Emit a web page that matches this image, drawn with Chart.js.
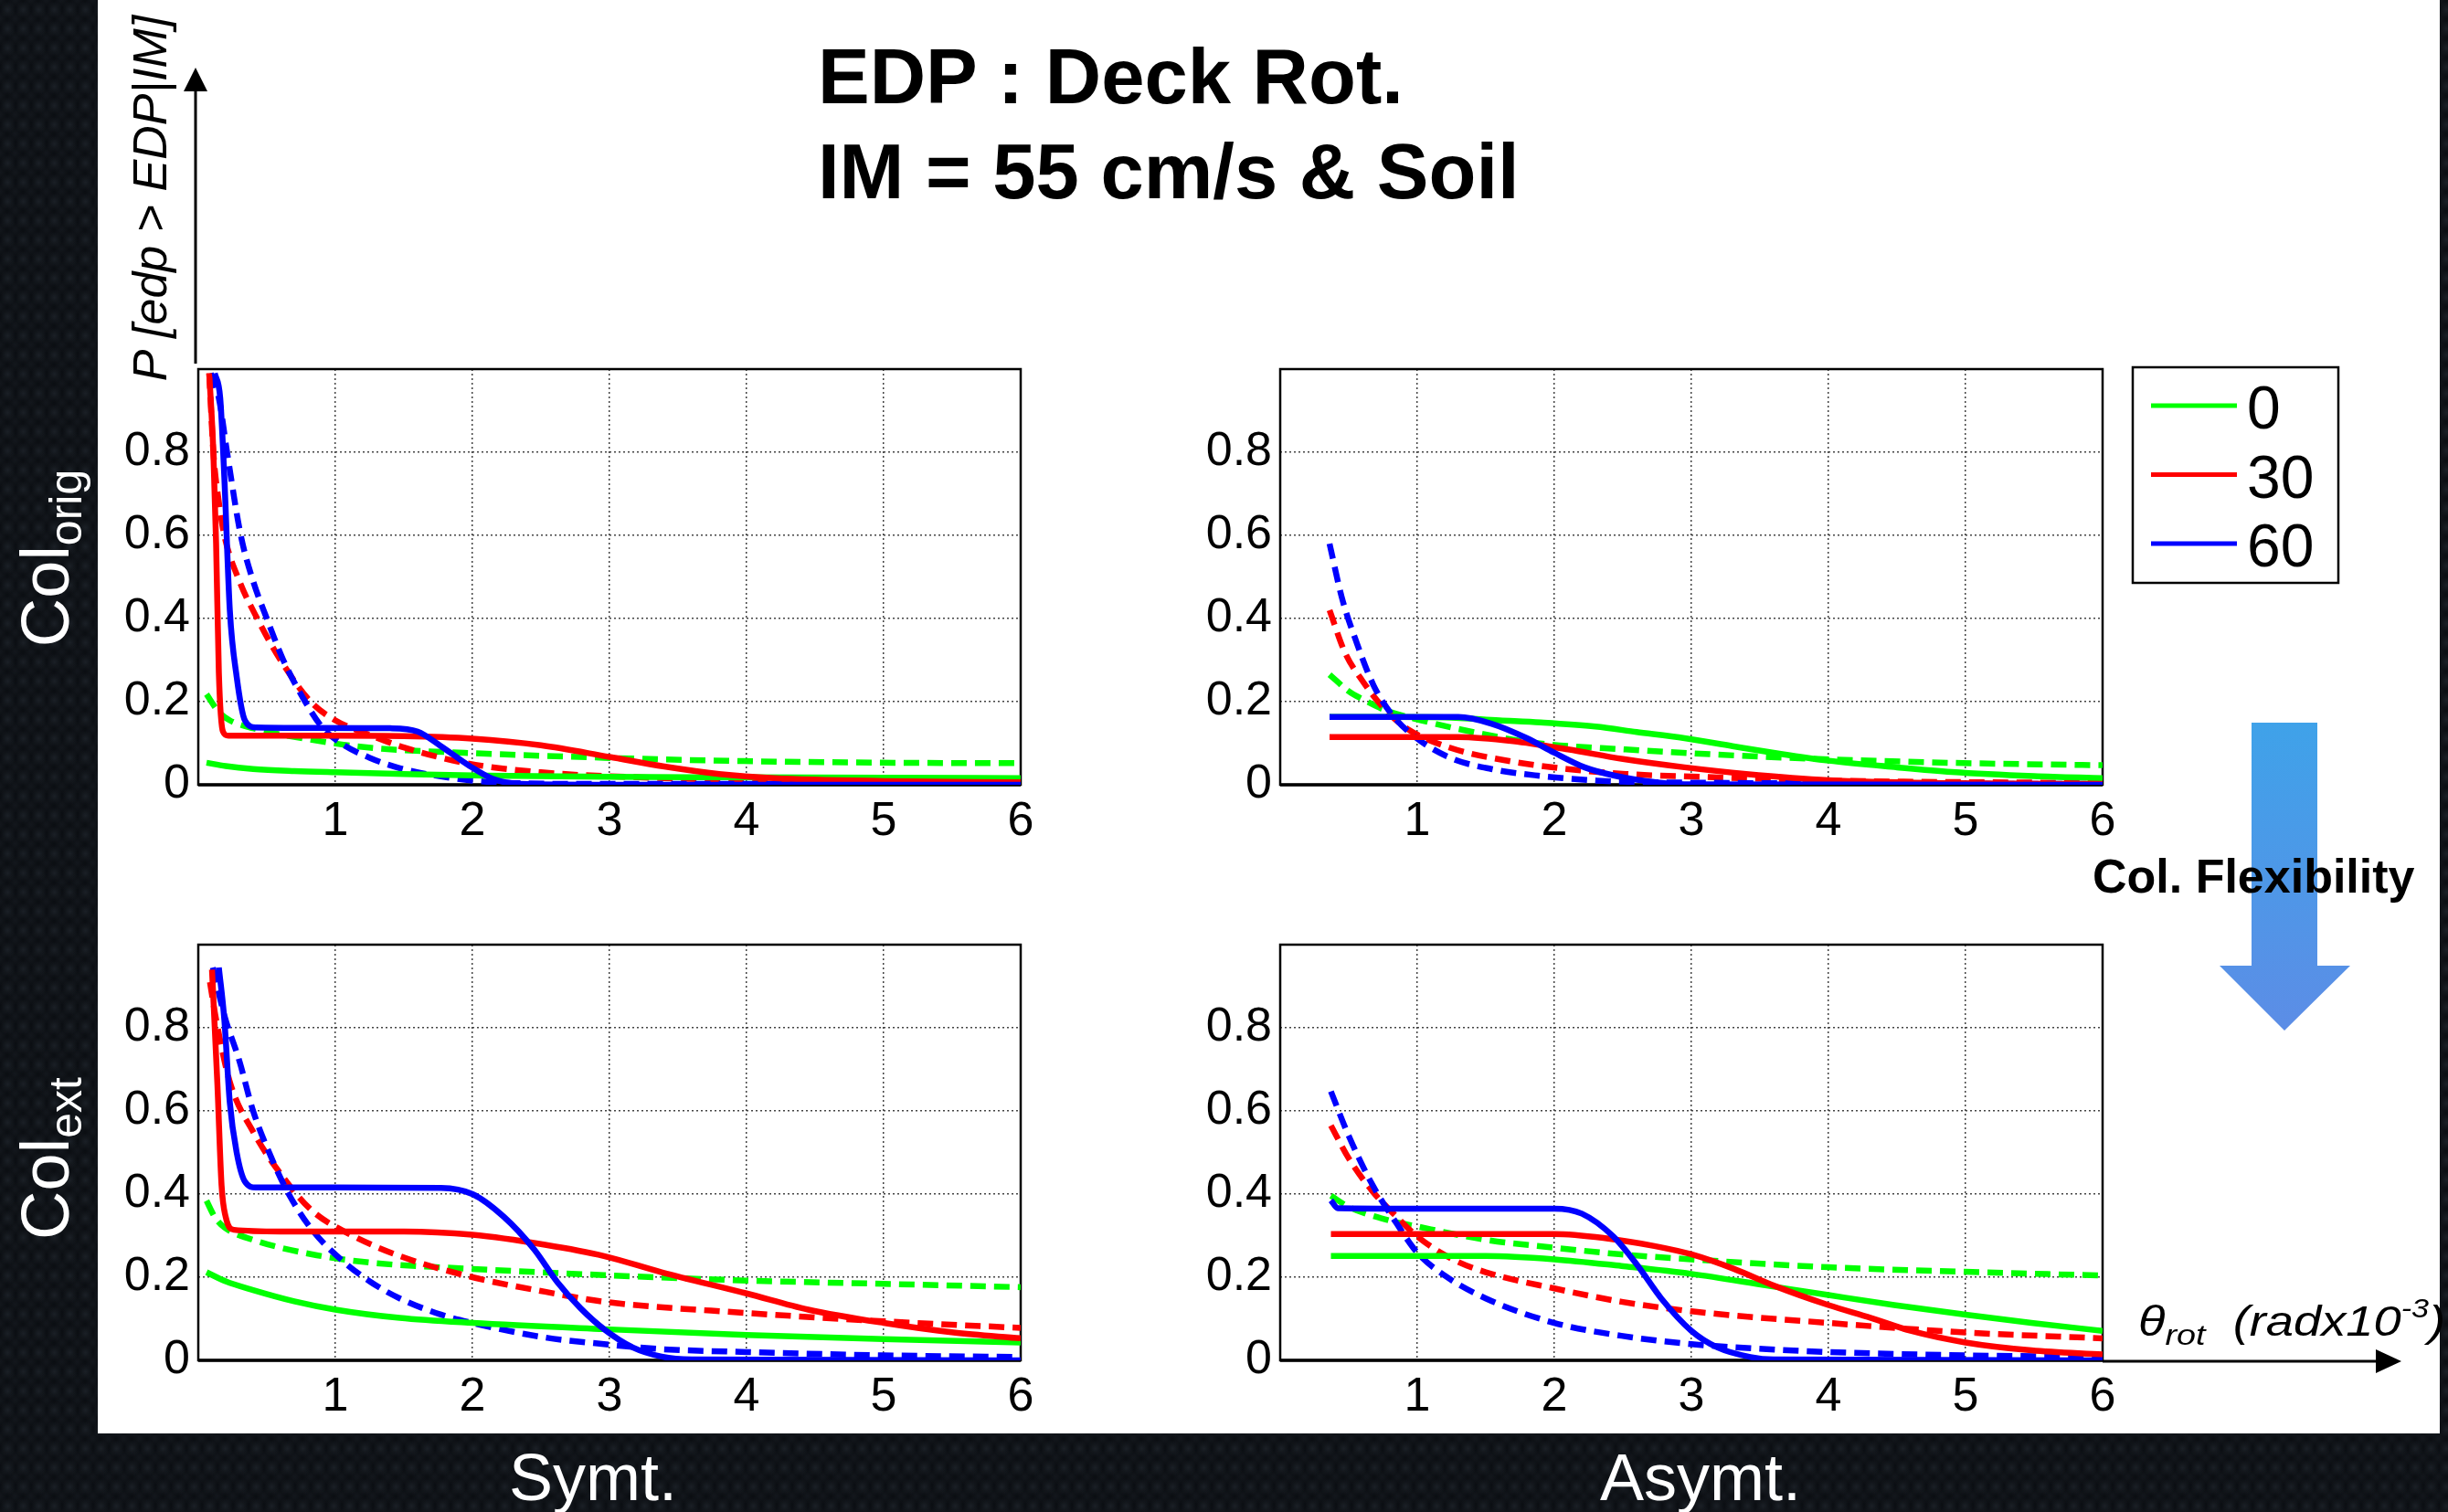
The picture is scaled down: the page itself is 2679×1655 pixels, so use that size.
<!DOCTYPE html>
<html>
<head>
<meta charset="utf-8">
<script src="https://cdn.jsdelivr.net/npm/chart.js@4.4.1/dist/chart.umd.min.js"></script>
<style>
  body {
    margin: 0;
    width: 2679px;
    height: 1655px;
    overflow: hidden;
    position: relative;
    background-color: #0b0e12;
    background-image:
      radial-gradient(ellipse 50% 45% at 50% 50%, rgba(52, 60, 70, 0.38), rgba(0, 0, 0, 0) 100%),
      radial-gradient(ellipse 50% 45% at 50% 50%, rgba(36, 42, 50, 0.32), rgba(0, 0, 0, 0) 100%);
    background-size: 17px 21px, 17px 21px;
    background-position: 0 0, 8px 10px;
    font-family: "Liberation Sans", Arial, sans-serif;
  }
  #sheet {
    position: absolute;
    left: 107px;
    top: 0;
    width: 2563px;
    height: 1569px;
    background: #fff;
  }
  canvas { position: absolute; }
  #overlay { position: absolute; left: 0; top: 0; pointer-events: none; }
</style>
</head>
<body>
<div id="sheet"></div>
<canvas id="symOrig" width="1050" height="545" style="left:107px;top:394px"></canvas>
<canvas id="asymOrig" width="1050" height="545" style="left:1291px;top:394px"></canvas>
<canvas id="symExt" width="1050" height="545" style="left:107px;top:1024px"></canvas>
<canvas id="asymExt" width="1050" height="545" style="left:1291px;top:1024px"></canvas>
<svg id="overlay" width="2679" height="1655" xmlns="http://www.w3.org/2000/svg"></svg>

<script>
// column flexibility cases shown in each panel
const seriesLabels = ['0', '30', '60'];
const seriesColors = ['#00ff00', '#ff0000', '#0000ff'];
const xTicks = [1, 2, 3, 4, 5, 6];
const yTicks = [0, 0.2, 0.4, 0.6, 0.8];

// Symmetric bridge, original columns  ([theta, P] pairs)
const symOrigSolid0 = [[0.06,0.053],[0.2,0.045],[0.4,0.038],[0.7,0.033],[1.0,0.030],[1.5,0.026],[2.1,0.022],[3.0,0.019],[3.8,0.018],[5.0,0.017],[6.0,0.016]];
const symOrigSolid30 = [[0.08,0.99],[0.11,0.80],[0.13,0.58],[0.15,0.27],[0.18,0.128],[0.22,0.118],[0.6,0.118],[1.0,0.118],[1.5,0.117],[2.0,0.111],[2.5,0.095],[3.0,0.067],[3.4,0.044],[3.8,0.026],[4.2,0.016],[5.0,0.009],[6.0,0.006]];
const symOrigSolid60 = [[0.12,0.99],[0.16,0.93],[0.19,0.74],[0.23,0.42],[0.28,0.26],[0.34,0.155],[0.42,0.138],[0.8,0.137],[1.4,0.136],[1.6,0.128],[1.77,0.093],[1.98,0.045],[2.15,0.014],[2.35,0.002],[3.0,0.0],[6.0,0.0]];
const symOrigDashed0 = [[0.06,0.218],[0.15,0.175],[0.23,0.155],[0.4,0.136],[0.83,0.108],[1.26,0.089],[1.94,0.077],[2.96,0.065],[3.98,0.057],[5.08,0.053],[6.0,0.052]];
const symOrigDashed30 = [[0.08,0.99],[0.11,0.80],[0.15,0.68],[0.19,0.60],[0.3,0.49],[0.43,0.40],[0.6,0.30],[0.82,0.20],[1.0,0.155],[1.25,0.12],[1.5,0.09],[1.94,0.053],[2.5,0.030],[3.4,0.016],[4.2,0.010],[6.0,0.006]];
const symOrigDashed60 = [[0.09,0.99],[0.15,0.93],[0.21,0.80],[0.31,0.60],[0.4,0.49],[0.5,0.40],[0.62,0.30],[0.78,0.20],[0.9,0.14],[1.04,0.10],[1.25,0.065],[1.47,0.040],[1.77,0.020],[2.0,0.010],[2.3,0.004],[3.0,0.002],[6.0,0.002]];

// Asymmetric bridge, original columns
const asymOrigSolid0 = [[0.36,0.163],[0.8,0.163],[1.2,0.162],[1.6,0.155],[1.9,0.150],[2.3,0.140],[2.6,0.127],[2.95,0.112],[3.3,0.093],[3.6,0.077],[4.0,0.058],[4.5,0.042],[4.9,0.031],[5.5,0.021],[6.0,0.016]];
const asymOrigSolid30 = [[0.36,0.115],[0.8,0.115],[1.3,0.115],[1.7,0.105],[2.1,0.085],[2.5,0.062],[2.95,0.042],[3.4,0.026],[4.0,0.011],[4.9,0.004],[6.0,0.002]];
const asymOrigSolid60 = [[0.36,0.163],[0.8,0.163],[1.3,0.163],[1.54,0.147],[1.8,0.112],[2.0,0.077],[2.22,0.042],[2.44,0.022],[2.74,0.006],[2.95,0.001],[6.0,0.0]];
const asymOrigDashed0 = [[0.36,0.265],[0.5,0.225],[0.6,0.206],[0.77,0.179],[1.03,0.155],[1.45,0.124],[1.88,0.10],[2.52,0.085],[3.16,0.073],[4.02,0.061],[4.87,0.053],[6.0,0.047]];
const asymOrigDashed30 = [[0.36,0.42],[0.47,0.32],[0.6,0.25],[0.77,0.179],[0.94,0.132],[1.24,0.089],[1.67,0.057],[2.09,0.038],[2.52,0.026],[3.16,0.018],[4.02,0.010],[6.0,0.004]];
const asymOrigDashed60 = [[0.36,0.58],[0.45,0.45],[0.56,0.34],[0.68,0.24],[0.81,0.171],[0.98,0.116],[1.24,0.065],[1.54,0.038],[1.88,0.022],[2.31,0.010],[2.74,0.006],[6.0,0.002]];

// Symmetric bridge, extended columns
const symExtSolid0 = [[0.06,0.212],[0.2,0.19],[0.4,0.169],[0.7,0.142],[1.0,0.122],[1.47,0.102],[2.0,0.09],[2.96,0.075],[4.0,0.061],[5.0,0.051],[6.0,0.043]];
const symExtSolid30 = [[0.1,0.94],[0.14,0.66],[0.17,0.42],[0.2,0.345],[0.26,0.314],[0.6,0.31],[1.5,0.31],[2.0,0.302],[2.53,0.278],[2.96,0.251],[3.38,0.212],[4.0,0.161],[4.45,0.122],[5.0,0.09],[5.51,0.067],[6.0,0.053]];
const symExtSolid60 = [[0.15,0.945],[0.19,0.82],[0.23,0.62],[0.28,0.50],[0.34,0.43],[0.42,0.416],[1.0,0.416],[1.77,0.415],[2.0,0.40],[2.23,0.345],[2.45,0.267],[2.62,0.188],[2.79,0.125],[2.96,0.075],[3.17,0.031],[3.38,0.009],[3.6,0.002],[6.0,0.0]];
const symExtDashed0 = [[0.06,0.384],[0.12,0.345],[0.19,0.32],[0.4,0.29],[0.83,0.255],[1.26,0.235],[2.0,0.22],[2.96,0.205],[4.0,0.192],[5.0,0.184],[6.0,0.176]];
const symExtDashed30 = [[0.085,0.91],[0.13,0.82],[0.23,0.67],[0.4,0.55],[0.62,0.44],[0.83,0.36],[1.09,0.306],[1.47,0.251],[2.0,0.20],[2.53,0.165],[2.96,0.141],[4.0,0.114],[5.0,0.094],[6.0,0.078]];
const symExtDashed60 = [[0.106,0.945],[0.19,0.83],[0.3,0.72],[0.4,0.60],[0.53,0.49],[0.66,0.40],[0.83,0.314],[1.04,0.243],[1.26,0.188],[1.47,0.149],[1.77,0.110],[2.0,0.09],[2.53,0.055],[2.96,0.039],[3.38,0.027],[4.0,0.020],[5.0,0.012],[6.0,0.008]];

// Asymmetric bridge, extended columns
const asymExtSolid0 = [[0.37,0.251],[1.0,0.251],[1.5,0.251],[2.0,0.243],[2.49,0.227],[3.0,0.208],[3.55,0.18],[4.0,0.157],[4.48,0.133],[5.0,0.11],[5.48,0.09],[6.0,0.071]];
const asymExtSolid30 = [[0.37,0.304],[1.0,0.304],[2.0,0.304],[2.37,0.294],[2.73,0.275],[3.0,0.255],[3.31,0.22],[3.6,0.18],[4.0,0.133],[4.31,0.102],[4.6,0.071],[5.0,0.043],[5.48,0.024],[6.0,0.014]];
const asymExtSolid60 = [[0.37,0.385],[0.42,0.366],[1.0,0.365],[2.0,0.365],[2.2,0.353],[2.43,0.298],[2.61,0.227],[2.78,0.149],[3.0,0.071],[3.19,0.031],[3.43,0.008],[3.6,0.002],[6.0,0.0]];
const asymExtDashed0 = [[0.37,0.396],[0.5,0.369],[0.79,0.337],[1.0,0.322],[1.5,0.29],[2.0,0.271],[2.49,0.255],[3.0,0.243],[4.0,0.224],[5.0,0.213],[6.0,0.204]];
const asymExtDashed30 = [[0.37,0.565],[0.5,0.486],[0.67,0.408],[0.85,0.345],[1.0,0.298],[1.26,0.243],[1.5,0.212],[2.0,0.173],[2.49,0.141],[3.0,0.118],[4.0,0.09],[5.0,0.067],[6.0,0.053]];
const asymExtDashed60 = [[0.37,0.647],[0.5,0.54],[0.67,0.424],[0.85,0.329],[1.0,0.259],[1.2,0.204],[1.5,0.149],[2.0,0.09],[2.49,0.059],[3.0,0.039],[3.55,0.027],[4.0,0.02],[5.0,0.012],[6.0,0.009]];

Chart.defaults.font.family = '"Liberation Sans", Arial, sans-serif';
Chart.defaults.color = '#000';

/* black box around the plotting area, drawn under the curves */
const frame = {
  id: 'frame',
  beforeDatasetsDraw(chart) {
    const a = chart.chartArea, ctx = chart.ctx;
    ctx.save();
    ctx.strokeStyle = '#000';
    ctx.lineWidth = 2.5;
    ctx.strokeRect(a.left, a.top, a.right - a.left, a.bottom - a.top);
    ctx.lineWidth = 3.5;
    ctx.beginPath();
    ctx.moveTo(a.left, a.bottom);
    ctx.lineTo(a.right, a.bottom);
    ctx.stroke();
    ctx.restore();
  }
};

function makeSets(solid, dashed) {
  const sets = [];
  solid.forEach((pts, i) => sets.push({
    label: seriesLabels[i], data: pts, borderColor: seriesColors[i],
    borderWidth: 6.5, order: 3 - i
  }));
  dashed.forEach((pts, i) => sets.push({
    label: seriesLabels[i], data: pts, borderColor: seriesColors[i],
    borderWidth: 6.5, borderDash: [17, 9], order: 6 - i
  }));
  return sets;
}

function panel(id, solid, dashed) {
  new Chart(document.getElementById(id), {
    type: 'line',
    data: { datasets: makeSets(solid, dashed) },
    options: {
      responsive: false,
      animation: false,
      devicePixelRatio: 1,
      layout: { padding: { top: 10, right: 40, left: 0, bottom: 0 } },
      elements: {
        point: { radius: 0 },
        line: { cubicInterpolationMode: 'monotone', fill: false, borderCapStyle: 'butt' }
      },
      plugins: { legend: { display: false }, tooltip: { enabled: false } },
      scales: {
        x: {
          type: 'linear', min: 0, max: 6,
          afterBuildTicks: s => { s.ticks = xTicks.map(v => ({ value: v })); },
          afterFit: s => { s.height = 80; s.paddingLeft = 0; s.paddingRight = 0; },
          ticks: { font: { size: 52 }, padding: 9, maxRotation: 0, callback: v => String(v) },
          grid: { color: '#444', lineWidth: 1.5, drawTicks: false },
          border: { display: false, dash: [2, 3] }
        },
        y: {
          min: 0, max: 1,
          afterBuildTicks: s => { s.ticks = yTicks.map(v => ({ value: v })); },
          afterFit: s => { s.width = 110; s.paddingTop = 0; s.paddingBottom = 0; },
          ticks: { font: { size: 52 }, padding: 9, callback: v => String(Math.round(v * 10) / 10) },
          grid: { color: '#444', lineWidth: 1.5, drawTicks: false },
          border: { display: false, dash: [2, 3] }
        }
      }
    },
    plugins: [frame]
  });
}

panel('symOrig', [symOrigSolid0, symOrigSolid30, symOrigSolid60], [symOrigDashed0, symOrigDashed30, symOrigDashed60]);
panel('asymOrig', [asymOrigSolid0, asymOrigSolid30, asymOrigSolid60], [asymOrigDashed0, asymOrigDashed30, asymOrigDashed60]);
panel('symExt', [symExtSolid0, symExtSolid30, symExtSolid60], [symExtDashed0, symExtDashed30, symExtDashed60]);
panel('asymExt', [asymExtSolid0, asymExtSolid30, asymExtSolid60], [asymExtDashed0, asymExtDashed30, asymExtDashed60]);

/* titles, axis arrows, legend and annotations */
const svg = document.getElementById('overlay');
const NS = 'http://www.w3.org/2000/svg';
function add(tag, attrs, text) {
  const el = document.createElementNS(NS, tag);
  for (const k in attrs) el.setAttribute(k, attrs[k]);
  if (text !== undefined) el.textContent = text;
  svg.appendChild(el);
  return el;
}
function tspan(parent, attrs, text) {
  const el = document.createElementNS(NS, 'tspan');
  for (const k in attrs) el.setAttribute(k, attrs[k]);
  el.textContent = text;
  parent.appendChild(el);
  return el;
}

const defs = add('defs', {});
defs.innerHTML = '<linearGradient id="flex" x1="0" y1="0" x2="0" y2="1">' +
  '<stop offset="0" stop-color="#3fa2e9"/><stop offset="1" stop-color="#5c8de6"/></linearGradient>';

const font = '"Liberation Sans", Arial, sans-serif';

// title
add('text', { x: 895, y: 113, 'font-family': font, 'font-size': 85, 'font-weight': 'bold' }, 'EDP : Deck Rot.');
add('text', { x: 895, y: 217, 'font-family': font, 'font-size': 85, 'font-weight': 'bold' }, 'IM = 55 cm/s & Soil');

// vertical probability axis
add('line', { x1: 214, y1: 398, x2: 214, y2: 96, stroke: '#000', 'stroke-width': 3 });
add('polygon', { points: '201,100 227,100 214,74', fill: '#000' });
add('text', { transform: 'translate(182,217) rotate(-90)', 'text-anchor': 'middle', 'font-family': font,
  'font-size': 52, 'font-style': 'italic' }, 'P [edp > EDP|IM]');

// horizontal rotation axis
add('line', { x1: 2301, y1: 1490, x2: 2604, y2: 1490, stroke: '#000', 'stroke-width': 3 });
add('polygon', { points: '2600,1477 2600,1503 2628,1490', fill: '#000' });
const th = add('text', { x: 2340, y: 1462, 'font-family': font, 'font-size': 46, 'font-style': 'italic',
  'xml:space': 'preserve', transform: 'translate(2340,0) scale(1.18,1) translate(-2340,0)' }, 'θ');
tspan(th, { 'font-size': 32, dy: 10 }, 'rot');
tspan(th, { dy: -10 }, '\u00a0\u00a0(radx10');
tspan(th, { 'font-size': 29, dy: -20 }, '-3');
tspan(th, { dy: 20 }, ')');

// legend
add('rect', { x: 2334, y: 402, width: 225, height: 236, fill: '#fff', stroke: '#000', 'stroke-width': 2.5 });
seriesLabels.forEach((lab, i) => {
  const y = 444 + i * 75.5;
  add('line', { x1: 2354, y1: y, x2: 2448, y2: y, stroke: seriesColors[i], 'stroke-width': 5 });
  add('text', { x: 2459, y: y + 25, 'font-family': font, 'font-size': 66 }, lab);
});

// column flexibility arrow
add('polygon', { points: '2464,791 2536,791 2536,1057 2572,1057 2500,1128 2429,1057 2464,1057', fill: 'url(#flex)' });
add('text', { x: 2290, y: 977, 'font-family': font, 'font-size': 52, 'font-weight': 'bold' }, 'Col. Flexibility');

// row and column captions on the dark border
function colLabel(cy, main, sub) {
  const t = add('text', { transform: 'translate(75,' + cy + ') rotate(-90)', 'text-anchor': 'middle',
    'font-family': font, 'font-size': 74, fill: '#fff' }, main);
  tspan(t, { 'font-size': 50, dy: 14 }, sub);
}
colLabel(611, 'Col', 'orig');
colLabel(1268, 'Col', 'ext');
add('text', { x: 649, y: 1642, 'text-anchor': 'middle', 'font-family': font, 'font-size': 72, fill: '#fff' }, 'Symt.');
add('text', { x: 1861, y: 1642, 'text-anchor': 'middle', 'font-family': font, 'font-size': 72, fill: '#fff' }, 'Asymt.');
</script>
</body>
</html>
